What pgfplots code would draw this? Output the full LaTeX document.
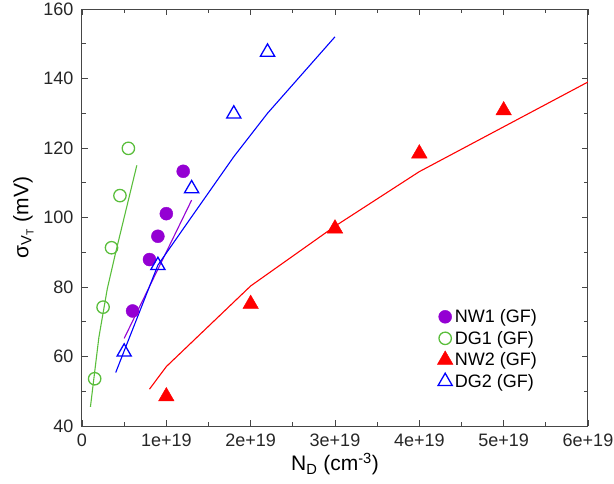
\documentclass[border=0pt]{standalone}
\usepackage{fontspec}
\setmainfont{Liberation Sans}
\usepackage{pgfplots}
\pgfplotsset{compat=1.18}
\definecolor{nwpurple}{RGB}{148,0,211}
\definecolor{dggreen}{RGB}{90,190,60}
\definecolor{axgray}{RGB}{70,70,70}
\begin{document}
\begin{tikzpicture}
\begin{axis}[
  width=506pt, height=417pt, scale only axis,
  xmin=0, xmax=6, ymin=40, ymax=160,
  xtick={0,1,2,3,4,5,6},
  xticklabels={0,1e+19,2e+19,3e+19,4e+19,5e+19,6e+19},
  ytick={40,60,...,160},
  minor xtick={0.5,1.5,2.5,3.5,4.5,5.5},
  minor ytick={50,70,90,110,130,150},
  tick align=inside,
  major tick length=6pt, minor tick length=4pt,
  axis line style={axgray, line width=1pt},
  every tick/.style={axgray, line width=0.8pt},
  tick label style={font=\fontsize{18}{20}\selectfont, text=black!85},
  yticklabel style={xshift=-5pt},
  xticklabel style={yshift=-4pt},
  /pgf/number format/assume math mode=true,
  xlabel={N\textsubscript{D} (cm\textsuperscript{-3})},
  ylabel={σ\textsubscript{V\textsubscript{T}} (mV)},
  label style={font=\fontsize{21}{24}\selectfont},
  xlabel style={yshift=0pt},
  ylabel style={yshift=3pt},
  legend style={draw=none, fill=none, at={(0.700,0.287)}, anchor=north west,
    font=\fontsize{18}{20}\selectfont, row sep=3pt, inner sep=1pt},
  legend cell align=left,
  legend image code/.code={\draw[#1] plot coordinates {(0pt,0pt)};},
]
% model lines
\addplot[nwpurple, line width=1.1pt, forget plot] coordinates {(0.5,65.2) (1.3,105.0)};
\addplot[dggreen, line width=1.1pt, forget plot] coordinates {(0.1,45.5) (0.2,65.5) (0.3,79.5) (0.4,90) (0.5,100) (0.6,110) (0.65,115)};
\addplot[red, line width=1.1pt, forget plot] coordinates {(0.8,50.6) (1.0,57.1) (2.0,80.3) (3.0,97.5) (4.0,113.2) (5.0,126.1) (6.0,139.0)};
\addplot[blue, line width=1.1pt, forget plot] coordinates {(0.4,55.4) (0.5,61.6) (0.9,86.3) (1.3,100.2) (1.8,117.5) (2.2,130.0) (3.0,152.0)};
% GF data
\addplot[only marks, mark=*, mark size=6.5pt, color=nwpurple, mark options={fill=nwpurple, draw=nwpurple}]
  coordinates {(0.6,73.1) (0.8,87.9) (0.9,94.6) (1.0,101.1) (1.2,113.3)};
\addlegendentry{NW1 (GF)}
\addplot[only marks, mark=o, mark size=6.2pt, color=dggreen, mark options={line width=1.3pt}]
  coordinates {(0.15,53.6) (0.25,74.2) (0.35,91.3) (0.45,106.3) (0.55,119.9)};
\addlegendentry{DG1 (GF)}
\addplot[only marks, mark=triangle*, mark size=9pt, color=red, mark options={fill=red, draw=red}]
  coordinates {(1.0,48.5) (2.0,75.1) (3.0,96.8) (4.0,118.4) (5.0,130.8)};
\addlegendentry{NW2 (GF)}
\addplot[only marks, mark=triangle, mark size=8.2pt, color=blue, mark options={line width=1.3pt}]
  coordinates {(0.5,61.3) (0.9,86.2) (1.3,108.3) (1.8,129.8) (2.2,147.6)};
\addlegendentry{DG2 (GF)}
\end{axis}
\pgfresetboundingbox
\path[use as bounding box] (-82pt,-57pt) rectangle (532pt,426pt);
\end{tikzpicture}
\end{document}
